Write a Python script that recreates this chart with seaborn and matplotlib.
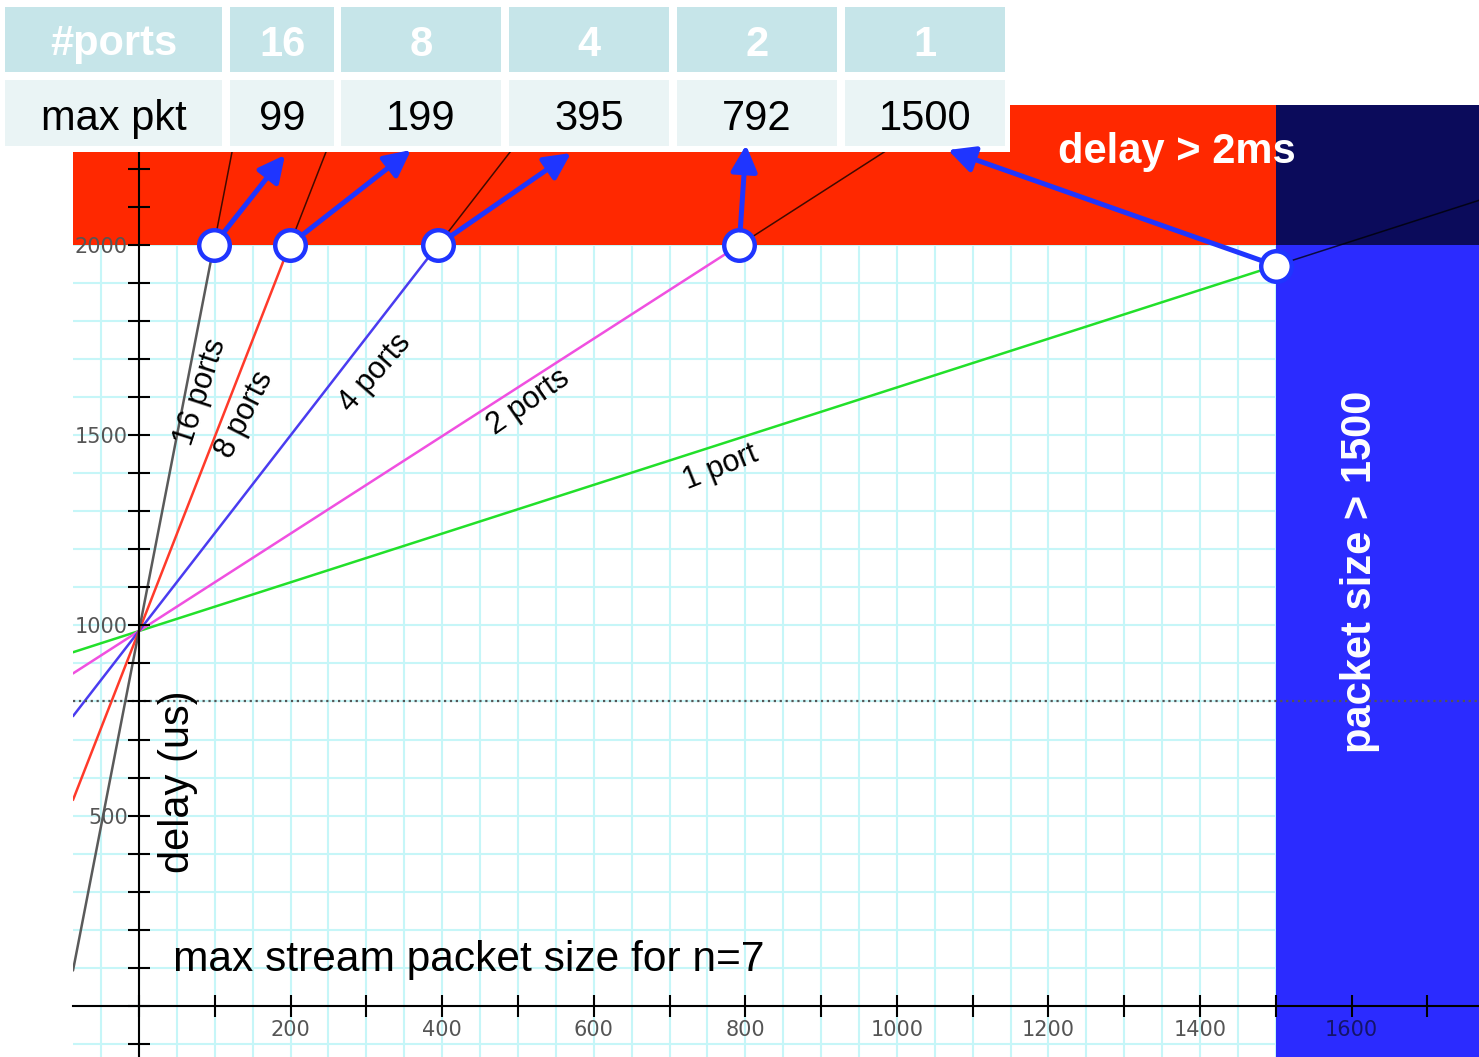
import numpy as np
import pandas as pd
import matplotlib
matplotlib.use('Agg')
import matplotlib.pyplot as plt
import seaborn as sns
from matplotlib.patches import Rectangle
from matplotlib.ticker import MultipleLocator, FuncFormatter

# data
ports = [16, 8, 4, 2, 1]
max_pkt = [99, 199, 395, 792, 1500]
base_delay = 985                      # us, where all lines meet (size 0)
slope = [10.25, 5.1, 2.57, 1.28, 0.64]  # us per byte
line_colors = ['#5a5a5a', '#ff3a2a', '#4a3cf0', '#f050e0', '#22e02a']
line_labels = ['16 ports', '8 ports', '4 ports', '2 ports', '1 port']
label_x = [81, 140, 312, 514, 767]
label_y = [1613, 1553, 1663, 1587, 1414]
label_rot = [72, 63, 49, 35, 22]
delay_limit = 2000
size_limit = 1500
ref_delay = 800
x_range = [-87, 1768]
y_range = [-134, 2367]

# table layout (figure pixels, y down)
col_edges = [(5, 222), (230, 334), (341, 501), (509, 669), (677, 837), (845, 1005)]
row1 = (7, 72)
row2 = (80, 146)
arrow_tip_x = [285, 411, 571, 746, 948]
arrow_tip_y = [155, 150, 153, 145, 150]

sns.set_style('white')
plt.rcParams['font.family'] = ['Liberation Sans', 'DejaVu Sans']
plt.rcParams['text.color'] = 'black'

fig = plt.figure(figsize=(14.79, 10.57), dpi=100)
ax = fig.add_axes([73 / 1479, 0, 1406 / 1479, 952 / 1057])

# grid
ax.vlines(np.arange(-50, 1800, 50), y_range[0], y_range[1], color='#c6f6f8', lw=1.5, zorder=0.3)
ax.hlines(np.arange(-100, 2400, 100), x_range[0], x_range[1], color='#c6f6f8', lw=1.5, zorder=0.3)

# lines
rows = []
for n, k in zip(ports, slope):
    for x in x_range:
        rows.append({'size': x, 'delay': base_delay + k * x, 'ports': n})
df = pd.DataFrame(rows)
sns.lineplot(data=df, x='size', y='delay', hue='ports', palette=dict(zip(ports, line_colors)),
             legend=False, lw=1.8, zorder=1.1, ax=ax, estimator=None, sort=False)

# regions
red = Rectangle((x_range[0], delay_limit), size_limit - x_range[0], y_range[1] - delay_limit,
                fc='#ff2800', ec='none', zorder=1.2)
navy = Rectangle((size_limit, delay_limit), x_range[1] - size_limit, y_range[1] - delay_limit,
                 fc='#0b0b5b', ec='none', zorder=1.2)
blue = Rectangle((size_limit, y_range[0]), x_range[1] - size_limit, delay_limit - y_range[0],
                 fc='#2b2bff', ec='none', zorder=1.2)
for p in (red, navy, blue):
    ax.add_patch(p)
    for k in slope:
        ln, = ax.plot(x_range, [base_delay + k * x for x in x_range], color='black',
                      lw=1.1, alpha=0.75, zorder=1.3)
        ln.set_clip_path(p)

ax.axhline(ref_delay, color='#555555', ls=':', lw=1.6, zorder=1.35)

# circles at the limits
circ_x = [min(m, size_limit) for m in max_pkt]
circ_y = [min(base_delay + k * x, delay_limit) for k, x in zip(slope, circ_x)]
ax.plot(circ_x, circ_y, 'o', ms=22, mfc='white', mec='#1f35ff', mew=3.2, zorder=5, clip_on=False)

# line labels
for t, lx, ly, r in zip(line_labels, label_x, label_y, label_rot):
    ax.text(lx, ly, t, rotation=r, rotation_mode='anchor', ha='center', va='center',
            fontsize=22, color='black', zorder=4)

ax.text(1370, 2244, 'delay > 2ms', color='white', fontsize=30, fontweight='bold',
        ha='center', va='center', zorder=4)
ax.text(1611, 1140, 'packet size > 1500', color='white', fontsize=30, fontweight='bold',
        rotation=90, ha='center', va='center', zorder=4)
ax.text(52, 589, 'delay (us)', fontsize=30, color='black', rotation=90, ha='center',
        va='center', zorder=4)
ax.text(45, 121, 'max stream packet size for n=7', fontsize=30.6, color='black', ha='left',
        va='center', zorder=4)

# axes through the origin
ax.set_xlim(x_range)
ax.set_ylim(y_range)
ax.set_xlabel('')
ax.set_ylabel('')
ax.set_axisbelow(False)
ax.spines['left'].set_position(('data', 0))
ax.spines['bottom'].set_position(('data', 0))
ax.spines['top'].set_visible(False)
ax.spines['right'].set_visible(False)
for s in ('left', 'bottom'):
    ax.spines[s].set_linewidth(1.5)
    ax.spines[s].set_color('black')
ax.xaxis.set_major_locator(MultipleLocator(100))
ax.yaxis.set_major_locator(MultipleLocator(100))
ax.xaxis.set_major_formatter(FuncFormatter(lambda v, p: f'{int(round(v))}' if v > 0 and round(v) % 200 == 0 else ''))
ax.yaxis.set_major_formatter(FuncFormatter(lambda v, p: f'{int(round(v))}' if v > 0 and round(v) % 500 == 0 else ''))
ax.tick_params(axis='both', bottom=True, left=True, direction='inout', length=16, width=1.5,
               color='black', labelcolor='#555555', labelsize=15, labelfontfamily='DejaVu Sans')
ax.tick_params(axis='x', pad=2)
ax.tick_params(axis='y', pad=0)
fig.canvas.draw()
for lab in ax.get_xticklabels():
    if lab.get_position()[0] > size_limit:
        lab.set_color('#14146a')

# table overlay
ov = fig.add_axes([0, 0, 1, 1])
ov.set_xlim(0, 1479)
ov.set_ylim(1057, 0)
ov.axis('off')
ov.add_patch(Rectangle((0, 0), 1010, 152, fc='white', ec='none'))
head = ['#ports'] + [str(p) for p in ports]
vals = ['max pkt'] + [str(m) for m in max_pkt]
for (x0, x1), h, v in zip(col_edges, head, vals):
    ov.add_patch(Rectangle((x0, row1[0]), x1 - x0, row1[1] - row1[0], fc='#c6e5e9', ec='none'))
    ov.add_patch(Rectangle((x0, row2[0]), x1 - x0, row2[1] - row2[0], fc='#eaf4f5', ec='none'))
    ov.text((x0 + x1) / 2, (row1[0] + row1[1]) / 2 + 5, h, color='white', fontsize=30,
            fontweight='bold', ha='center', va='center')
    ov.text((x0 + x1) / 2, (row2[0] + row2[1]) / 2 + 6, v, color='black', fontsize=30,
            ha='center', va='center')

for cx, cy, tx, ty in zip(circ_x, circ_y, arrow_tip_x, arrow_tip_y):
    ov.annotate('', xy=(tx, ty), xycoords='data', xytext=(cx, cy), textcoords=ax.transData,
                arrowprops=dict(arrowstyle='-|>', color='#1f35ff', lw=3.6, shrinkA=11,
                                shrinkB=0, mutation_scale=40))

fig.savefig('out.png', dpi=100)
